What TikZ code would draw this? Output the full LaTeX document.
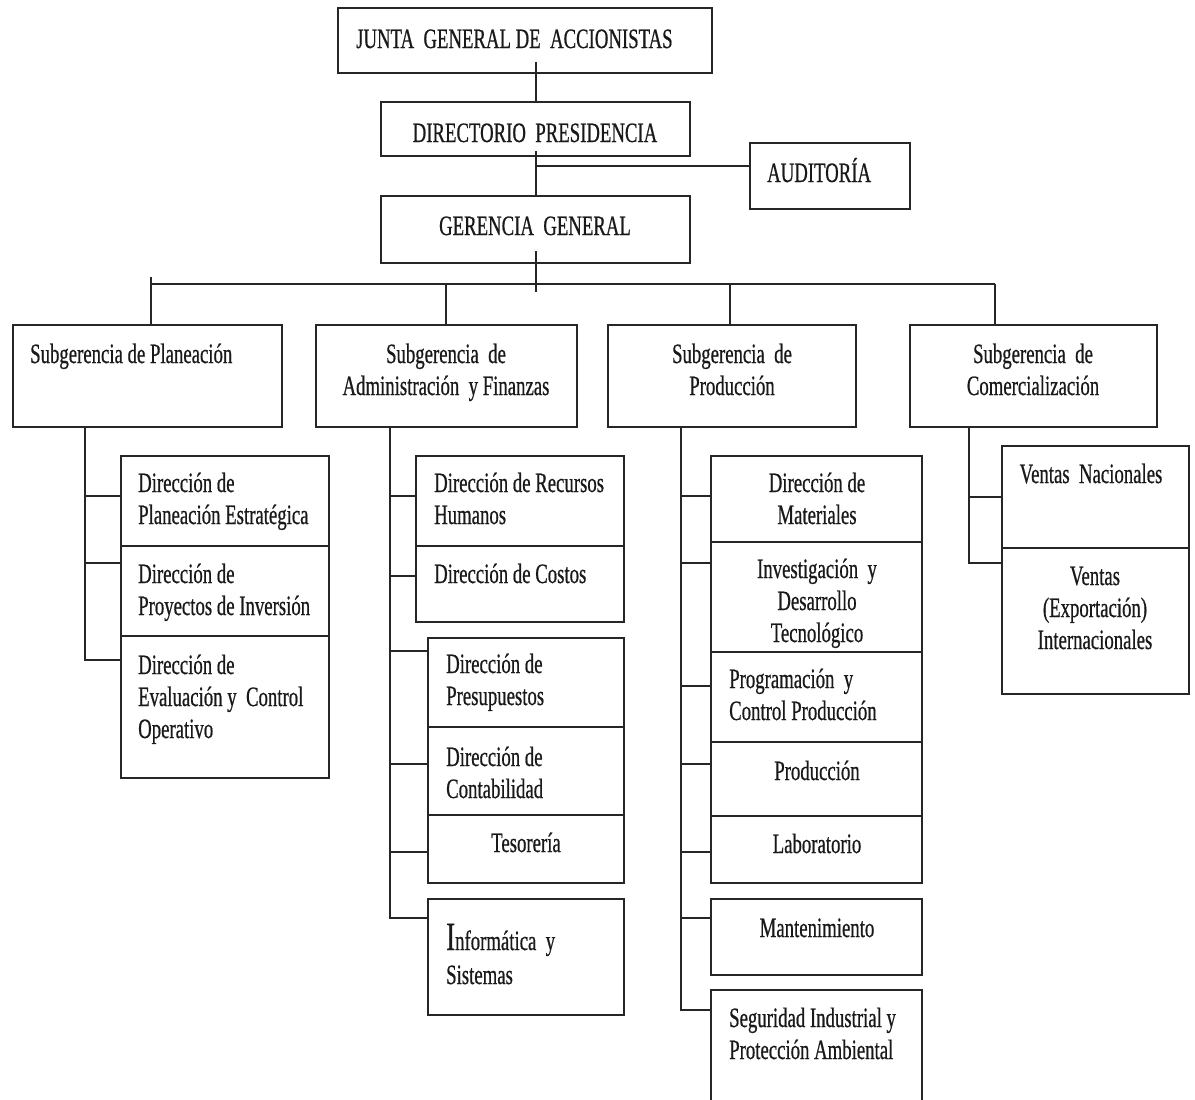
\documentclass[tikz,border=0pt]{standalone}
\usepackage{fontspec}
\setmainfont{Liberation Serif}[FakeStretch=0.67,FakeBold=0.6]
\usetikzlibrary{fit}
% multi-line label whose baseline is the first line
\newcommand\lines[2][l]{\begin{tabular}[t]{@{}#1@{}}#2\end{tabular}}
\newcommand\bigI{\fontsize{40}{32}\selectfont}

\begin{document}
\begin{tikzpicture}[x=1pt,y=-1pt,
  orgbox/.style={draw=black!85, line width=2.3pt, inner sep=0pt, rectangle},
  link/.style={draw=black!85, line width=2pt},
  lab/.style={inner sep=0pt, text=black!90, font=\fontsize{28}{32}\selectfont},
  labl/.style={lab, anchor=base west},
  labc/.style={lab, anchor=base}]

\useasboundingbox[fill=white] (0,0) rectangle (1195,1100);

% ---- top levels ----
\node[orgbox, fit={(338,8) (712,73)}]    (junta) {};
\node[orgbox, fit={(381,102) (690,156)}] (dir) {};
\node[orgbox, fit={(750,143) (910,209)}] (aud) {};
\node[orgbox, fit={(381,196) (690,263)}] (gg) {};

\node[labl] (junta-t) at (356,48)  {JUNTA\ \ GENERAL DE\ \ ACCIONISTAS};
\node[labc] (dir-t)   at (535,142) {DIRECTORIO\ \ PRESIDENCIA};
\node[labl] (aud-t)   at (767,182) {AUDITORÍA};
\node[labc] (gg-t)    at (535,235) {GERENCIA\ \ GENERAL};

\draw[link] ([yshift=12pt]junta.south -| gg.north) -- (dir.north -| gg.north);
\draw[link] ([yshift=6pt]dir.south -| gg.north) -- (gg.north);
\draw[link] (gg.north |- 0,166) -- (aud.west |- 0,166);
\draw[link] ([yshift=13pt]gg.south) -- (gg.south |- 0,292);

% ---- subgerencias ----
\node[orgbox, fit={(13,325) (282,427)}]   (sp)  {};
\node[orgbox, fit={(316,325) (577,427)}]  (sa)  {};
\node[orgbox, fit={(608,325) (856,427)}]  (spd) {};
\node[orgbox, fit={(910,325) (1157,427)}] (sc)  {};

\node[labl] (sp-t)  at (30,363)   {Subgerencia de Planeación};
\node[labc] (sa-t)  at (446,363)  {\lines[c]{Subgerencia\ \ de\\Administración\ \ y Finanzas}};
\node[labc] (spd-t) at (732,363)  {\lines[c]{Subgerencia\ \ de\\Producción}};
\node[labc] (sc-t)  at (1033,363) {\lines[c]{Subgerencia\ \ de\\Comercialización}};

\draw[link] (151,284) -- (995,284);
\draw[link] (151,277) -- (sp.north -| 151,0);
\draw[link] (446,284) -- (sa.north -| 446,0);
\draw[link] (730,284) -- (spd.north -| 730,0);
\draw[link] (995,284) -- (sc.north -| 995,0);

% ---- Planeación ----
\node[orgbox, fit={(121,456) (329,546)}] (pl1) {};
\node[orgbox, fit={(121,546) (329,636)}] (pl2) {};
\node[orgbox, fit={(121,636) (329,778)}] (pl3) {};
\node[labl] (pl1-t) at (138,492) {\lines{Dirección de\\Planeación Estratégica}};
\node[labl] (pl2-t) at (138,583) {\lines{Dirección de\\Proyectos de Inversión}};
\node[labl] (pl3-t) at (138,674) {\lines{Dirección de\\Evaluación y\ \ Control\\Operativo}};
\coordinate (pl-s) at (sp.south -| 85,0);
\draw[link] (pl-s) |- (pl1.west |- 0,496);
\draw[link] (pl-s) |- (pl2.west |- 0,563);
\draw[link] (pl-s) |- (pl3.west |- 0,660);

% ---- Administración y Finanzas ----
\node[orgbox, fit={(416,456) (624,546)}] (ad1) {};
\node[orgbox, fit={(416,546) (624,622)}] (ad2) {};
\node[orgbox, fit={(428,638) (624,727)}] (ad3) {};
\node[orgbox, fit={(428,727) (624,815)}] (ad4) {};
\node[orgbox, fit={(428,815) (624,883)}] (ad5) {};
\node[orgbox, fit={(428,899) (624,1015)}] (ad6) {};
\node[labl] (ad1-t) at (434,492) {\lines{Dirección de Recursos\\Humanos}};
\node[labl] (ad2-t) at (434,583) {Dirección de Costos};
\node[labl] (ad3-t) at (446,673) {\lines{Dirección de\\Presupuestos}};
\node[labl] (ad4-t) at (446,766) {\lines{Dirección de\\Contabilidad}};
\node[labc] (ad5-t) at (526,852) {Tesorería};
\node[labl] (ad6-t) at (446,950) {\lines{{\bigI I}nformática\ \ y\\[2pt]Sistemas}};
\coordinate (ad-s) at (sa.south -| 390,0);
\draw[link] (ad-s) |- (ad1.west |- 0,496);
\draw[link] (ad-s) |- (ad2.west |- 0,576);
\draw[link] (ad-s) |- (ad3.west |- 0,651);
\draw[link] (ad-s) |- (ad4.west |- 0,764);
\draw[link] (ad-s) |- (ad5.west |- 0,852);
\draw[link] (ad-s) |- (ad6.west |- 0,918);

% ---- Producción ----
\node[orgbox, fit={(711,456) (922,542)}] (pr1) {};
\node[orgbox, fit={(711,542) (922,652)}] (pr2) {};
\node[orgbox, fit={(711,652) (922,742)}] (pr3) {};
\node[orgbox, fit={(711,742) (922,816)}] (pr4) {};
\node[orgbox, fit={(711,816) (922,883)}] (pr5) {};
\node[orgbox, fit={(711,899) (922,975)}] (pr6) {};
\node[orgbox, fit={(711,990) (922,1112)}] (pr7) {};
\node[labc] (pr1-t) at (817,492)  {\lines[c]{Dirección de\\Materiales}};
\node[labc] (pr2-t) at (817,578)  {\lines[c]{Investigación\ \ y\\Desarrollo\\Tecnológico}};
\node[labl] (pr3-t) at (729,688)  {\lines{Programación\ \ y\\Control Producción}};
\node[labc] (pr4-t) at (817,780)  {Producción};
\node[labc] (pr5-t) at (817,853)  {Laboratorio};
\node[labc] (pr6-t) at (817,937)  {Mantenimiento};
\node[labl] (pr7-t) at (729,1027) {\lines{Seguridad Industrial y\\Protección Ambiental}};
\coordinate (pr-s) at (spd.south -| 681,0);
\draw[link] (pr-s) |- (pr1.west |- 0,496);
\draw[link] (pr-s) |- (pr2.west |- 0,563);
\draw[link] (pr-s) |- (pr3.west |- 0,686);
\draw[link] (pr-s) |- (pr4.west |- 0,764);
\draw[link] (pr-s) |- (pr5.west |- 0,852);
\draw[link] (pr-s) |- (pr6.west |- 0,918);
\draw[link] (pr-s) |- (pr7.west |- 0,1010);

% ---- Comercialización ----
\node[orgbox, fit={(1002,446) (1189,548)}] (co1) {};
\node[orgbox, fit={(1002,548) (1189,694)}] (co2) {};
\node[labc] (co1-t) at (1091,483) {Ventas\ \ Nacionales};
\node[labc] (co2-t) at (1095,585) {\lines[c]{Ventas\\(Exportación)\\Internacionales}};
\coordinate (co-s) at (sc.south -| 969,0);
\draw[link] (co-s) |- (co1.west |- 0,497);
\draw[link] (co-s) |- (co2.west |- 0,563);

\end{tikzpicture}
\end{document}
